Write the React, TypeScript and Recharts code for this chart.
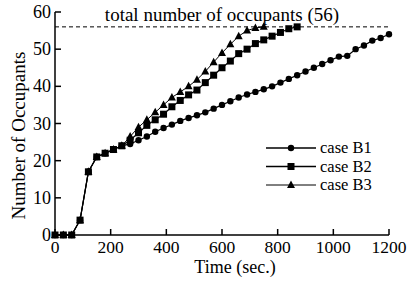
import React from "react";
import { LineChart, Line, XAxis, YAxis, ReferenceLine } from "recharts";

// time in seconds, sampled every 30 s
const times = Array.from({ length: 41 }, (_, i) => i * 30);

const caseB1 = [
  0, 0, 0, 4, 17, 21, 22, 23, 24,
  24.5, 25.5, 26.5, 27.8, 28.8, 29.7, 30.7, 31.5, 32.2, 33,
  34, 35, 36, 37, 37.8, 38.5, 39.2, 40, 41, 42,
  43, 44, 45, 46, 47, 48, 48.2, 50, 51, 52.3,
  53, 54,
];
const caseB2 = [
  0, 0, 0, 4, 17, 21, 22, 23, 24,
  25.5, 27.5, 29.5, 31, 32.5, 34.5, 36.2, 37.7, 39, 41,
  43, 45, 46.8, 48.8, 50, 51.5, 52.5, 53.5, 54.5, 55.5,
  56,
];
const caseB3 = [
  0, 0, 0, 4, 17, 21, 22, 23, 24,
  26.5, 29, 31, 33, 35, 37, 38.5, 40, 41.8, 44,
  46.5, 49, 51.3, 53.5, 55, 55.7, 56,
];

const xTicks = [0, 200, 400, 600, 800, 1000, 1200];
const yTicks = [0, 10, 20, 30, 40, 50, 60];
const totalOccupants = 56;

const rows = times.map((t, i) => ({
  t,
  b1: caseB1[i],
  b2: i < caseB2.length ? caseB2[i] : null,
  b3: i < caseB3.length ? caseB3[i] : null,
}));

const FONT = "'Liberation Serif', 'DejaVu Serif', serif";

const YTick = (props: any) => {
  const { x, y, payload } = props;
  return (
    <g>
      <line x1={x} y1={y} x2={x + 6} y2={y} stroke="#000" strokeWidth={1.5} />
      <text x={x - 4} y={y + 6} textAnchor="end" fontSize={18} fontFamily={FONT} fill="#000">
        {payload.value}
      </text>
    </g>
  );
};

const XTick = (props: any) => {
  const { x, y, payload } = props;
  return (
    <g>
      <line x1={x} y1={y} x2={x} y2={y - 6} stroke="#000" strokeWidth={1.5} />
      <text x={x} y={y + 18} textAnchor="middle" fontSize={17.5} fontFamily={FONT} fill="#000">
        {payload.value}
      </text>
    </g>
  );
};

const circleDot = (p: any) => {
  if (p.cx == null || p.cy == null || p.value == null) return <g key={p.index} />;
  return <circle key={p.index} cx={p.cx} cy={p.cy} r={3.2} fill="#000" />;
};
const squareDot = (p: any) => {
  if (p.cx == null || p.cy == null || p.value == null) return <g key={p.index} />;
  return <rect key={p.index} x={p.cx - 3.5} y={p.cy - 3.5} width={7} height={7} fill="#000" />;
};
const triangleDot = (p: any) => {
  if (p.cx == null || p.cy == null || p.value == null) return <g key={p.index} />;
  const { cx, cy } = p;
  return (
    <polygon
      key={p.index}
      points={`${cx},${cy - 4.5} ${cx - 4},${cy + 3} ${cx + 4},${cy + 3}`}
      fill="#000"
    />
  );
};

const legendItems = [
  { name: "case B1", shape: "circle" },
  { name: "case B2", shape: "square" },
  { name: "case B3", shape: "triangle" },
];

function LegendBox() {
  const rowH = 18.5;
  return (
    <svg
      width={130}
      height={rowH * 3 + 4}
      style={{ position: "absolute", left: 266, top: 138 }}
    >
      {legendItems.map((it, i) => {
        const cy = 10 + i * rowH;
        return (
          <g key={it.name}>
            <line x1={0} y1={cy} x2={50} y2={cy} stroke="#000" strokeWidth={it.shape === "triangle" ? 1 : 1.5} />
            {it.shape === "circle" && <circle cx={25} cy={cy} r={3.2} fill="#000" />}
            {it.shape === "square" && <rect x={21.5} y={cy - 3.5} width={7} height={7} fill="#000" />}
            {it.shape === "triangle" && (
              <polygon points={`25,${cy - 4.5} 21,${cy + 3} 29,${cy + 3}`} fill="#000" />
            )}
            <text x={54} y={cy + 5} fontSize={16.5} fontFamily={FONT} fill="#000">
              {it.name}
            </text>
          </g>
        );
      })}
    </svg>
  );
}

export default function App() {
  return (
    <div style={{ position: "absolute", left: 0, top: 0, width: 412, height: 283, background: "#fff" }}>
      <LineChart
        width={412}
        height={283}
        data={rows}
        margin={{ top: 12, right: 23, bottom: 0, left: 0 }}
        style={{ fontFamily: FONT }}
      >
        <XAxis
          dataKey="t"
          type="number"
          domain={[0, 1200]}
          ticks={xTicks}
          height={48}
          stroke="#000"
          strokeWidth={1.5}
          tickLine={false}
          tickSize={0}
          tickMargin={0}
          tick={<XTick />}
          interval={0}
          label={{
            content: (lp: any) => {
              const vb = lp.viewBox || {};
              return (
                <text x={vb.x + vb.width / 2 + 13} y={273} textAnchor="middle" fontSize={18} fontFamily={FONT} fill="#000">
                  Time (sec.)
                </text>
              );
            },
          }}
        />
        <YAxis
          type="number"
          domain={[0, 60]}
          ticks={yTicks}
          width={55}
          stroke="#000"
          strokeWidth={1.5}
          tickLine={false}
          tickSize={0}
          tickMargin={0}
          tick={<YTick />}
          interval={0}
          label={{
            content: (lp: any) => {
              const vb = lp.viewBox || {};
              const cy = vb.y + vb.height / 2 + 12;
              return (
                <text
                  x={18}
                  y={cy}
                  transform={`rotate(-90, 18, ${cy})`}
                  textAnchor="middle"
                  dominantBaseline="central"
                  fontSize={19}
                  fontFamily={FONT}
                  fill="#000"
                >
                  Number of Occupants
                </text>
              );
            },
          }}
        />
        <ReferenceLine
          y={totalOccupants}
          stroke="#000"
          strokeWidth={1}
          strokeDasharray="4 3"
          label={{
            value: "total number of occupants (56)",
            position: "top",
            offset: 6,
            fontSize: 19,
            fontFamily: FONT,
            fill: "#000",
          }}
        />
        <Line dataKey="b1" stroke="#000" strokeWidth={1.2} dot={circleDot} isAnimationActive={false} />
        <Line dataKey="b2" stroke="#000" strokeWidth={1.2} dot={squareDot} isAnimationActive={false} />
        <Line dataKey="b3" stroke="#000" strokeWidth={1} dot={triangleDot} isAnimationActive={false} />
      </LineChart>
      <LegendBox />
    </div>
  );
}
